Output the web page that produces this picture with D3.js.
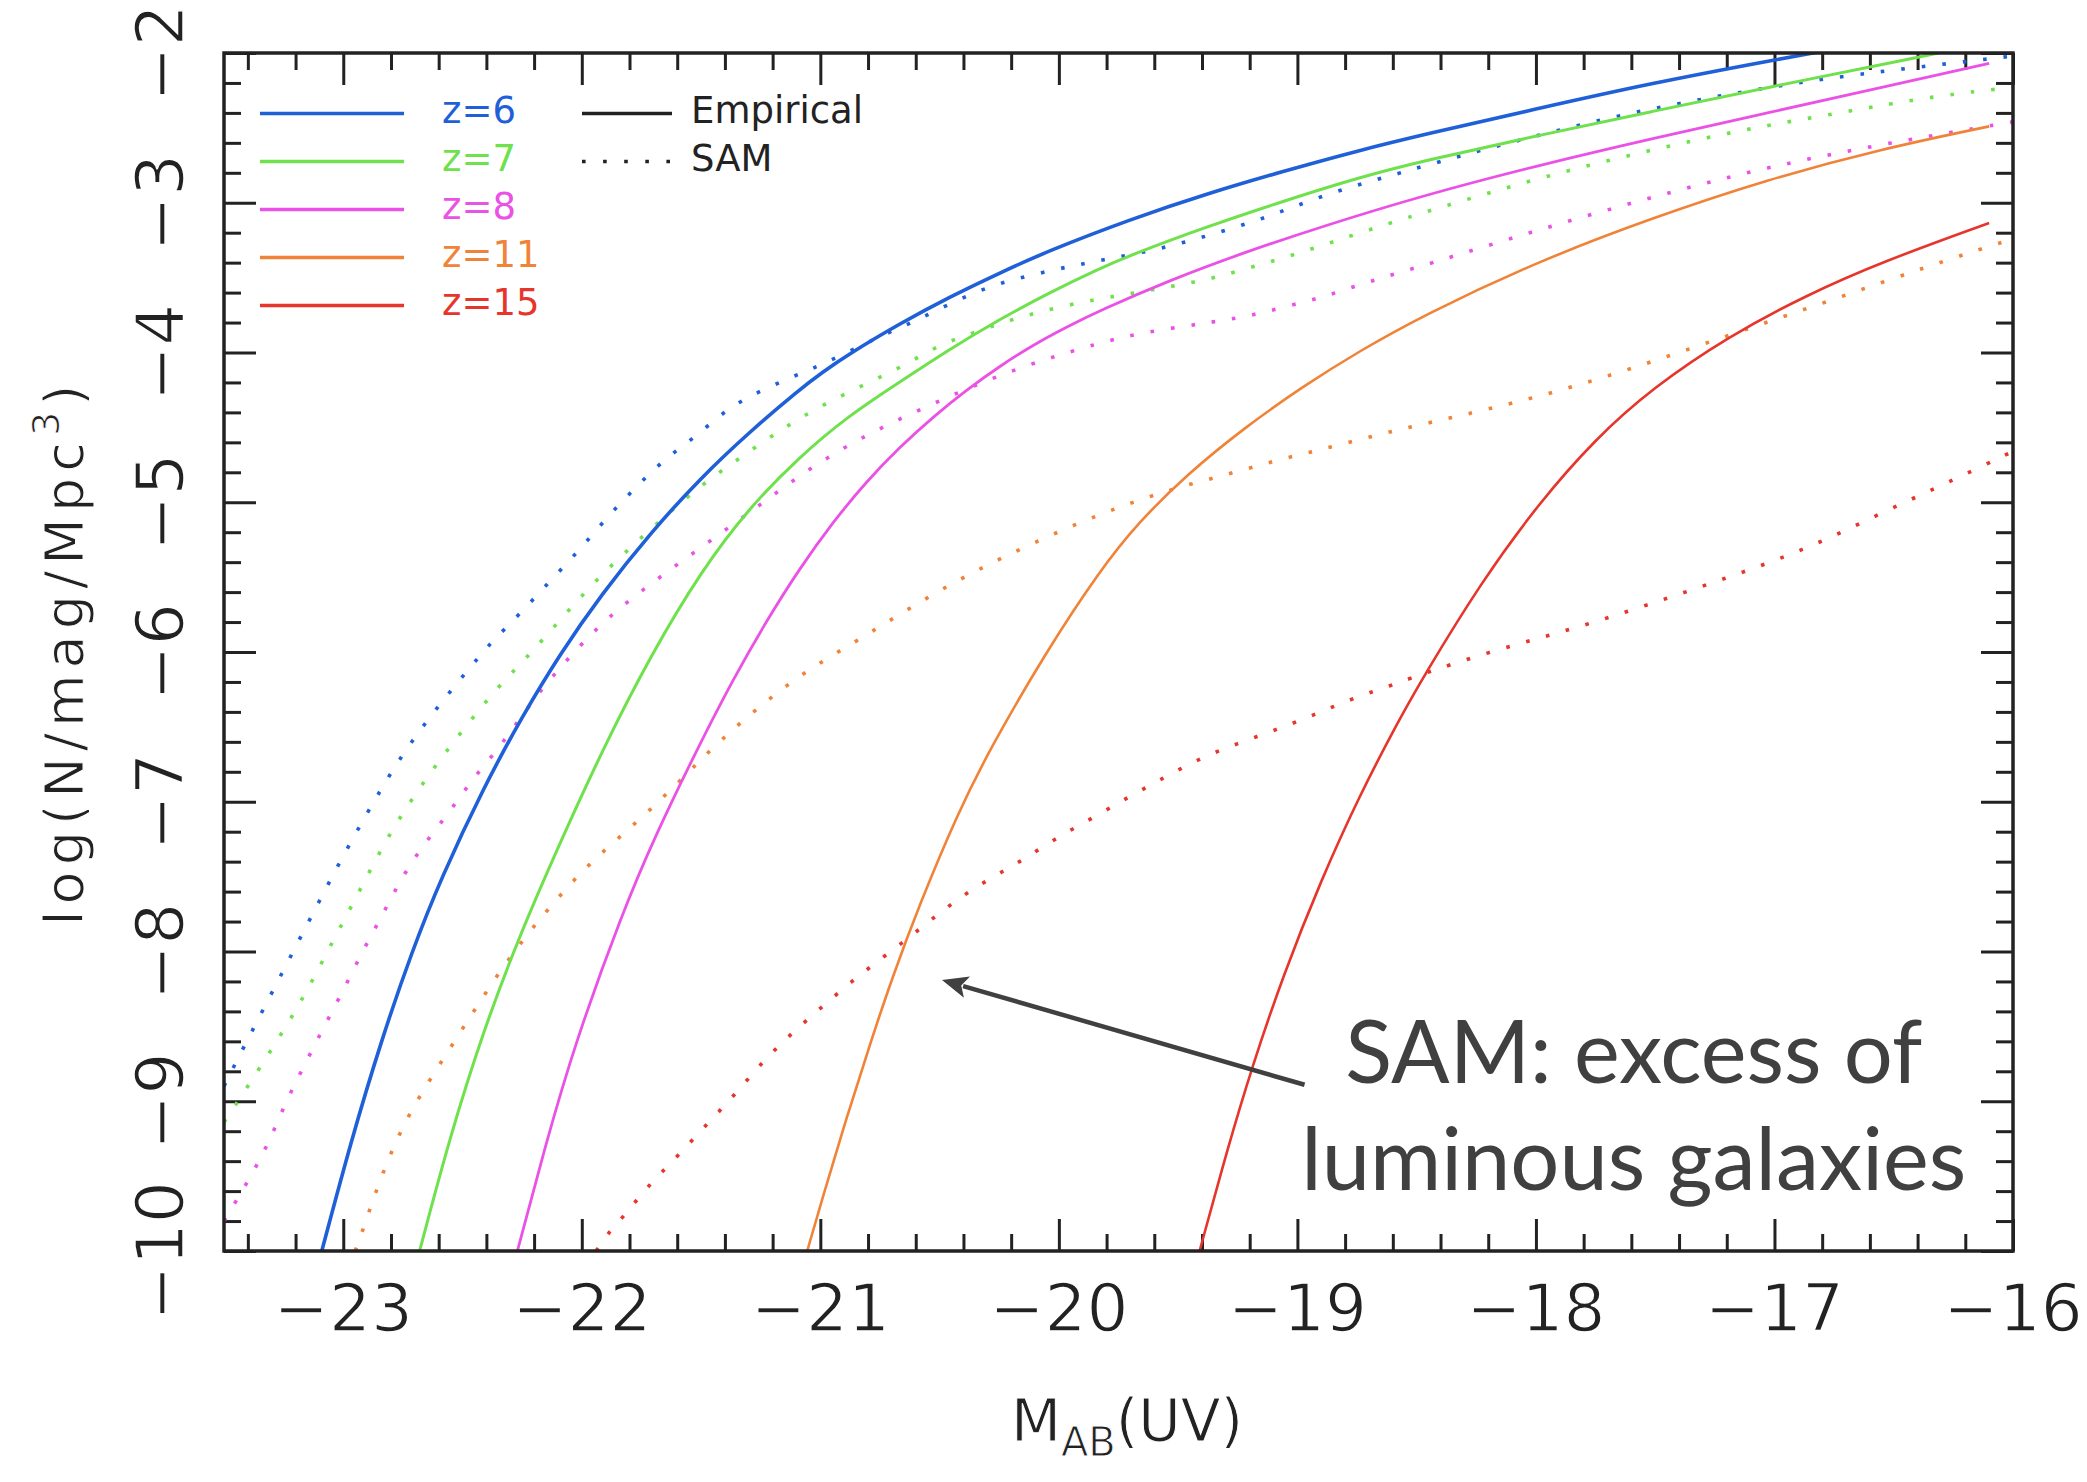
<!DOCTYPE html>
<html><head><meta charset="utf-8">
<script src="https://cdn.jsdelivr.net/npm/d3@7"></script>
<style>html,body{margin:0;padding:0;background:#fff;} svg{display:block;}</style>
</head><body>
<svg id="chart" width="2087" height="1482"></svg>
<script>
// ---------------- data ----------------
const xTickValues = [-23, -22, -21, -20, -19, -18, -17, -16];
const yTickValues = [-2, -3, -4, -5, -6, -7, -8, -9, -10];
const seriesLabels = ["z=6", "z=7", "z=8", "z=11", "z=15"];
const seriesColors = ["#1f60d8", "#6fe14c", "#ea52e6", "#f08338", "#e6352b"];
const styleLabels = ["Empirical", "SAM"];
const annotationLines = ["SAM: excess of", "luminous galaxies"];

// Empirical (solid) luminosity functions: [M_AB, log N]
const empZ6 = [[-23.09,-10.0],[-22.97,-9.28],[-22.84,-8.59],[-22.71,-7.99],[-22.59,-7.51],[-22.41,-6.90],[-22.25,-6.43],[-22.09,-6.01],[-21.92,-5.62],[-21.71,-5.20],[-21.50,-4.835],[-21.30,-4.535],[-21.09,-4.25],[-20.99,-4.13],[-20.88,-4.01],[-20.67,-3.81],[-20.46,-3.63],[-20.25,-3.47],[-20.05,-3.325],[-19.70,-3.11],[-19.38,-2.94],[-19.06,-2.79],[-18.74,-2.65],[-18.47,-2.545],[-17.99,-2.37],[-17.51,-2.20],[-17.03,-2.055],[-16.60,-1.93]];
const empZ7 = [[-22.68,-10.0],[-22.55,-9.22],[-22.41,-8.52],[-22.27,-7.93],[-22.11,-7.34],[-21.91,-6.64],[-21.71,-6.02],[-21.50,-5.46],[-21.30,-5.04],[-21.09,-4.70],[-20.88,-4.42],[-20.67,-4.20],[-20.46,-3.98],[-20.25,-3.78],[-20.04,-3.60],[-19.83,-3.44],[-19.70,-3.35],[-19.38,-3.16],[-19.06,-2.99],[-18.74,-2.83],[-18.47,-2.72],[-17.99,-2.55],[-17.51,-2.39],[-17.03,-2.23],[-16.40,-2.03],[-16.10,-1.93]];
const empZ8 = [[-22.27,-10.0],[-22.15,-9.28],[-22.03,-8.62],[-21.83,-7.74],[-21.69,-7.22],[-21.52,-6.66],[-21.365,-6.18],[-21.225,-5.79],[-21.086,-5.44],[-20.946,-5.13],[-20.806,-4.86],[-20.666,-4.63],[-20.527,-4.43],[-20.387,-4.25],[-20.247,-4.09],[-20.108,-3.95],[-19.968,-3.83],[-19.828,-3.72],[-19.54,-3.52],[-19.22,-3.33],[-18.90,-3.16],[-18.47,-2.95],[-17.99,-2.75],[-17.51,-2.57],[-17.03,-2.40],[-16.55,-2.23],[-16.10,-2.07]];
const empZ11 = [[-21.055,-10.0],[-20.99,-9.64],[-20.89,-9.11],[-20.79,-8.61],[-20.70,-8.18],[-20.585,-7.69],[-20.425,-7.08],[-20.29,-6.65],[-20.056,-6.005],[-19.83,-5.46],[-19.67,-5.14],[-19.46,-4.81],[-19.22,-4.50],[-18.98,-4.23],[-18.74,-3.99],[-18.47,-3.75],[-17.99,-3.39],[-17.51,-3.10],[-17.03,-2.845],[-16.55,-2.64],[-16.10,-2.49]];
const empZ15 = [[-19.41,-10.0],[-19.29,-9.30],[-19.19,-8.77],[-19.06,-8.16],[-18.90,-7.52],[-18.74,-6.96],[-18.58,-6.47],[-18.47,-6.16],[-18.23,-5.535],[-17.99,-5.01],[-17.75,-4.575],[-17.51,-4.235],[-17.19,-3.89],[-16.87,-3.62],[-16.55,-3.395],[-16.10,-3.135]];

// SAM (dotted) luminosity functions
const samZ6 = [[-23.50,-8.90],[-23.45,-8.74],[-23.33,-8.37],[-23.21,-8.00],[-23.09,-7.63],[-22.97,-7.27],[-22.84,-6.91],[-22.75,-6.68],[-22.645,-6.45],[-22.54,-6.24],[-22.43,-6.03],[-22.37,-5.92],[-22.25,-5.73],[-22.13,-5.52],[-22.01,-5.32],[-21.90,-5.11],[-21.78,-4.91],[-21.66,-4.72],[-21.52,-4.56],[-21.38,-4.36],[-21.23,-4.24],[-21.07,-4.13],[-20.99,-4.08],[-20.75,-3.89],[-20.60,-3.79],[-20.44,-3.66],[-20.28,-3.55],[-20.11,-3.48],[-19.94,-3.42],[-19.78,-3.37],[-19.61,-3.32],[-19.44,-3.25],[-19.27,-3.17],[-19.10,-3.08],[-18.94,-2.98],[-18.77,-2.89],[-18.61,-2.82],[-18.44,-2.74],[-18.02,-2.56],[-17.61,-2.40],[-17.18,-2.27],[-16.75,-2.16],[-16.32,-2.08],[-16.00,-2.02]];
const samZ7 = [[-23.50,-9.14],[-23.45,-9.02],[-23.31,-8.68],[-23.17,-8.32],[-23.05,-7.95],[-22.93,-7.59],[-22.81,-7.22],[-22.67,-6.88],[-22.51,-6.54],[-22.345,-6.22],[-22.22,-6.02],[-22.105,-5.81],[-21.93,-5.50],[-21.74,-5.22],[-21.55,-4.95],[-21.415,-4.79],[-21.27,-4.63],[-21.13,-4.48],[-20.99,-4.35],[-20.81,-4.21],[-20.65,-4.09],[-20.505,-3.95],[-20.345,-3.86],[-20.18,-3.77],[-20.01,-3.70],[-19.83,-3.64],[-19.67,-3.60],[-19.50,-3.55],[-19.34,-3.50],[-19.17,-3.42],[-19.00,-3.34],[-18.83,-3.25],[-18.66,-3.16],[-18.42,-3.04],[-18.00,-2.84],[-17.58,-2.67],[-17.16,-2.52],[-16.73,-2.40],[-16.30,-2.28],[-16.00,-2.23]];
const samZ8 = [[-23.50,-9.80],[-23.39,-9.51],[-23.31,-9.27],[-23.24,-9.00],[-23.16,-8.75],[-23.08,-8.50],[-23.00,-8.26],[-22.92,-8.00],[-22.84,-7.77],[-22.76,-7.52],[-22.67,-7.30],[-22.55,-7.06],[-22.46,-6.85],[-22.35,-6.65],[-22.20,-6.31],[-22.09,-6.10],[-21.91,-5.79],[-21.70,-5.53],[-21.49,-5.29],[-21.28,-5.05],[-21.07,-4.80],[-20.845,-4.58],[-20.61,-4.40],[-20.37,-4.23],[-20.13,-4.08],[-19.88,-3.96],[-19.72,-3.89],[-19.54,-3.84],[-19.37,-3.80],[-19.21,-3.76],[-19.04,-3.69],[-18.87,-3.62],[-18.71,-3.53],[-18.45,-3.41],[-17.99,-3.18],[-17.51,-2.96],[-17.03,-2.76],[-16.52,-2.60],[-16.00,-2.46]];
const samZ11 = [[-22.95,-10.0],[-22.92,-9.87],[-22.835,-9.47],[-22.73,-9.09],[-22.59,-8.74],[-22.45,-8.39],[-22.305,-8.04],[-22.145,-7.72],[-21.97,-7.41],[-21.77,-7.14],[-21.58,-6.85],[-21.46,-6.65],[-21.27,-6.38],[-21.065,-6.13],[-20.84,-5.92],[-20.62,-5.70],[-20.39,-5.49],[-20.16,-5.31],[-19.92,-5.14],[-19.76,-5.04],[-19.60,-4.95],[-19.43,-4.87],[-19.26,-4.80],[-19.09,-4.72],[-18.93,-4.66],[-18.76,-4.59],[-18.59,-4.52],[-18.42,-4.46],[-17.99,-4.30],[-17.58,-4.10],[-17.165,-3.87],[-16.76,-3.65],[-16.35,-3.42],[-16.00,-3.24]];
const samZ15 = [[-21.94,-10.0],[-21.89,-9.88],[-21.83,-9.78],[-21.72,-9.56],[-21.60,-9.37],[-21.48,-9.16],[-21.36,-8.96],[-21.25,-8.75],[-21.13,-8.56],[-21.00,-8.38],[-20.87,-8.20],[-20.73,-8.03],[-20.59,-7.86],[-20.46,-7.69],[-20.31,-7.53],[-20.16,-7.40],[-20.02,-7.25],[-19.86,-7.11],[-19.71,-6.97],[-19.56,-6.84],[-19.41,-6.71],[-19.25,-6.61],[-19.09,-6.52],[-18.93,-6.42],[-18.77,-6.31],[-18.60,-6.22],[-18.52,-6.17],[-18.18,-5.99],[-17.85,-5.85],[-17.52,-5.68],[-17.19,-5.50],[-16.86,-5.31],[-16.55,-5.07],[-16.235,-4.84],[-16.00,-4.66]];

// annotation anchor points in data coordinates
const arrowTail = [-18.97, -8.89];
const arrowTip = [-20.49, -8.19];
const annotationAnchor = [-17.59, -8.88];

// ---------------- layout ----------------
const svg = d3.select("#chart");
const plot = {left: 224, right: 2013, top: 53, bottom: 1251};
const x = d3.scaleLinear().domain([-23.5, -16]).range([plot.left, plot.right]);
const y = d3.scaleLinear().domain([-10, -2]).range([plot.bottom, plot.top]);
const ink = "#222";
const axisFont = "'DejaVu Sans', 'Liberation Sans', sans-serif";

svg.append("rect").attr("width", 2087).attr("height", 1482).attr("fill", "#fff");

svg.append("defs").append("clipPath").attr("id", "clip")
  .append("rect").attr("x", plot.left).attr("y", plot.top)
  .attr("width", plot.right - plot.left).attr("height", plot.bottom - plot.top);

// ---------------- ticks (inward, all four sides) ----------------
const xMinor = d3.range(-117, -80).filter(i => i % 5 !== 0).map(i => i / 5);
const yMinor = d3.range(-50, -10).filter(i => i % 5 !== 0).map(i => i / 5);
const majorLen = 32, minorLen = 17;

function styleAxis(g) {
  g.select(".domain").remove();
  g.selectAll("line").attr("stroke", ink).attr("stroke-width", 3);
  g.selectAll("text").remove();
}
[[xTickValues, majorLen], [xMinor, minorLen]].forEach(([vals, len]) => {
  svg.append("g").attr("transform", `translate(0,${plot.bottom})`)
    .call(d3.axisBottom(x).tickValues(vals).tickSize(-len)).call(styleAxis);
  svg.append("g").attr("transform", `translate(0,${plot.top})`)
    .call(d3.axisTop(x).tickValues(vals).tickSize(-len)).call(styleAxis);
});
[[yTickValues, majorLen], [yMinor, minorLen]].forEach(([vals, len]) => {
  svg.append("g").attr("transform", `translate(${plot.left},0)`)
    .call(d3.axisLeft(y).tickValues(vals).tickSize(-len)).call(styleAxis);
  svg.append("g").attr("transform", `translate(${plot.right},0)`)
    .call(d3.axisRight(y).tickValues(vals).tickSize(-len)).call(styleAxis);
});

// tick labels (a thin white outline lightens the glyph weight)
function lightText(sel) {
  sel.attr("font-family", axisFont).attr("font-size", 66).attr("fill", ink)
    .attr("stroke", "#fff").attr("stroke-width", 1.4);
}
svg.append("g").selectAll("text").data(xTickValues).join("text")
  .attr("x", d => x(d)).attr("y", 1331)
  .attr("text-anchor", "middle").call(lightText)
  .text(d => "\u2212" + Math.abs(d));
svg.append("g").selectAll("text").data(yTickValues).join("text")
  .attr("transform", d => `translate(183,${y(d)}) rotate(-90)`)
  .attr("text-anchor", "middle").call(lightText)
  .text(d => "\u2212" + Math.abs(d));

// axis titles
const xt = svg.append("text").attr("x", 1127).attr("y", 1441)
  .attr("text-anchor", "middle").attr("font-family", axisFont)
  .attr("font-size", 58).attr("fill", ink)
  .attr("stroke", "#fff").attr("stroke-width", 1);
xt.append("tspan").text("M");
xt.append("tspan").attr("font-size", 40).attr("dy", 15).text("AB");
xt.append("tspan").attr("dy", -15).text("(UV)");

const yt = svg.append("text")
  .attr("transform", `translate(83,${y(-6)}) rotate(-90)`)
  .attr("text-anchor", "middle").attr("font-family", axisFont)
  .attr("font-size", 54).attr("fill", ink)
  .attr("stroke", "#fff").attr("stroke-width", 1);
yt.append("tspan").text("log(N/mag/Mpc");
yt.append("tspan").attr("font-size", 38).attr("dy", -24).text("3");
yt.append("tspan").attr("dy", 24).text(")");
{
  const natural = yt.node().getComputedTextLength();
  const target = 547;
  const nChars = "log(N/mag/Mpc3)".length;
  yt.attr("letter-spacing", Math.max(0, (target - natural) / nChars));
}

// ---------------- curves ----------------
const line = d3.line().x(d => x(d[0])).y(d => y(d[1])).curve(d3.curveBasis);
const empirical = [empZ6, empZ7, empZ8, empZ11, empZ15];
const sam = [samZ6, samZ7, samZ8, samZ11, samZ15];
const solidWidths = [3.6, 3.0, 2.8, 2.6, 2.6];
const curves = svg.append("g").attr("clip-path", "url(#clip)");

sam.forEach((data, i) => {
  curves.append("path").datum(data).attr("d", line)
    .attr("fill", "none").attr("stroke", seriesColors[i])
    .attr("stroke-width", 3.6).attr("stroke-dasharray", "3.6 17");
});
empirical.forEach((data, i) => {
  curves.append("path").datum(data).attr("d", line)
    .attr("fill", "none").attr("stroke", seriesColors[i])
    .attr("stroke-width", solidWidths[i]);
});

// ---------------- frame ----------------
svg.append("rect").attr("x", plot.left).attr("y", plot.top)
  .attr("width", plot.right - plot.left).attr("height", plot.bottom - plot.top)
  .attr("fill", "none").attr("stroke", ink).attr("stroke-width", 3.5);

// ---------------- legend ----------------
const legend = svg.append("g");
const legRow0 = 113.5, legStep = 48;
seriesLabels.forEach((lab, i) => {
  const yy = legRow0 + i * legStep;
  legend.append("line").attr("x1", 260).attr("x2", 404).attr("y1", yy).attr("y2", yy)
    .attr("stroke", seriesColors[i]).attr("stroke-width", 3.5);
  legend.append("text").attr("x", 442).attr("y", yy + 9)
    .attr("font-family", axisFont).attr("font-size", 37).attr("fill", seriesColors[i])
    .text(lab);
});
styleLabels.forEach((lab, i) => {
  const yy = legRow0 + i * legStep;
  legend.append("line").attr("x1", 582).attr("x2", 672).attr("y1", yy).attr("y2", yy)
    .attr("stroke", ink).attr("stroke-width", i === 0 ? 3.5 : 3.6)
    .attr("stroke-dasharray", i === 0 ? null : "3.6 17.5");
  legend.append("text").attr("x", 691).attr("y", yy + 9)
    .attr("font-family", axisFont).attr("font-size", 37).attr("fill", ink)
    .text(lab);
});

// ---------------- annotation ----------------
const annColor = "#404040";
const tx = x(arrowTail[0]), ty = y(arrowTail[1]);
const px = x(arrowTip[0]), py = y(arrowTip[1]);
const ang = Math.atan2(py - ty, px - tx);
const headLen = 26, headHalf = 11;
const bx = px - headLen * Math.cos(ang), by = py - headLen * Math.sin(ang);
svg.append("line").attr("x1", tx).attr("y1", ty)
  .attr("x2", bx + 4 * Math.cos(ang)).attr("y2", by + 4 * Math.sin(ang))
  .attr("stroke", annColor).attr("stroke-width", 4.5);
svg.append("path")
  .attr("d", `M${px},${py}L${bx - headHalf * Math.sin(ang)},${by + headHalf * Math.cos(ang)}L${bx + 6 * Math.cos(ang)},${by + 6 * Math.sin(ang)}L${bx + headHalf * Math.sin(ang)},${by - headHalf * Math.cos(ang)}Z`)
  .attr("fill", annColor);

const ann = svg.append("g").attr("font-family", "Lato, 'Open Sans', sans-serif")
  .attr("fill", annColor).attr("text-anchor", "middle");
const annX = x(annotationAnchor[0]), annY = y(annotationAnchor[1]);
const annTexts = annotationLines.map((t, i) =>
  ann.append("text").attr("x", annX).attr("y", annY + i * 107).attr("font-size", 90).text(t));
{
  const w = annTexts[1].node().getComputedTextLength();
  const fs = 90 * 665 / w;
  annTexts.forEach(t => t.attr("font-size", fs));
}
</script>
</body></html>
